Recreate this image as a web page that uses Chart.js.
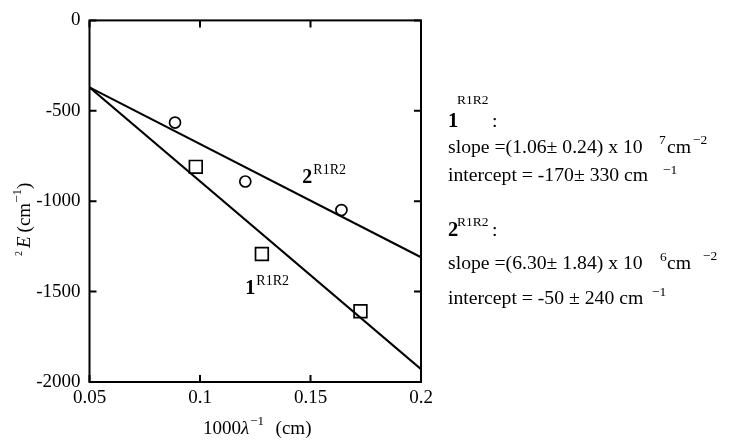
<!DOCTYPE html>
<html>
<head>
<meta charset="utf-8">
<script src="https://cdn.jsdelivr.net/npm/chart.js@4"></script>
<style>
  body { margin: 0; background: #fff; }
  #wrap { position: relative; width: 729px; height: 447px; }
  #myChart { position: absolute; left: 0; top: 0; }
  .t { position: absolute; font-family: 'Liberation Serif', serif; line-height: 1; white-space: pre; color: #000; }
</style>
</head>
<body>
<div id="wrap">
  <canvas id="myChart" width="729" height="447"></canvas>
</div>
<script>
// data
const circleX = [0.0887, 0.1205, 0.164];
const circleY = [-565, -891, -1049];
const squareX = [0.0981, 0.128, 0.1726];
const squareY = [-810, -1292, -1609];
const fit1X = [0.05, 0.2];
const fit1Y = [-370, -1929];
const fit2X = [0.05, 0.2];
const fit2Y = [-370, -1310];

const xTicks = [0.05, 0.1, 0.15, 0.2];
const xTickLabels = ["0.05", "0.1", "0.15", "0.2"];
const yTicks = [0, -500, -1000, -1500, -2000];
const yTickLabels = ["0", "-500", "-1000", "-1500", "-2000"];

// in-plot labels: [x, y, main, sup]
const seriesLabels = [
  [0.1463, -897, "2", "R1R2"],
  [0.1205, -1516, "1", "R1R2"],
];

const pts = (xs, ys) => xs.map((x, i) => ({ x: x, y: ys[i] }));
const serif = "'Liberation Serif', serif";

const framePlugin = {
  id: "frame",
  afterDraw(chart) {
    const { ctx, chartArea: a, scales } = chart;
    const xs = scales.x, ys = scales.y;
    ctx.save();
    ctx.strokeStyle = "#000";
    ctx.lineWidth = 2;
    ctx.strokeRect(a.left, a.top, a.right - a.left, a.bottom - a.top);
    ctx.beginPath();
    xTicks.forEach((v) => {
      const px = xs.getPixelForValue(v);
      ctx.moveTo(px, a.top); ctx.lineTo(px, a.top + 7);
      ctx.moveTo(px, a.bottom); ctx.lineTo(px, a.bottom - 7);
    });
    yTicks.forEach((v) => {
      const py = ys.getPixelForValue(v);
      ctx.moveTo(a.left, py); ctx.lineTo(a.left + 7, py);
      ctx.moveTo(a.right, py); ctx.lineTo(a.right - 7, py);
    });
    ctx.stroke();

    // series labels
    ctx.fillStyle = "#000";
    ctx.textBaseline = "alphabetic";
    seriesLabels.forEach(([x, y, main, sup]) => {
      const px = xs.getPixelForValue(x), py = ys.getPixelForValue(y);
      ctx.font = "bold 20px " + serif;
      ctx.fillText(main, px, py);
      ctx.font = "14px " + serif;
      ctx.fillText(sup, px + 11, py - 9);
    });

    // x axis title
    const cx = (a.left + a.right) / 2 + 2;
    const by = 434;
    const parts = [
      ["1000", "19px " + serif, 0, 0],
      ["\u03bb", "italic 19px " + serif, 0, 1],
      ["\u22121", "13px " + serif, -9, 2],
      ["  (cm)", "19px " + serif, 0, 0],
    ];
    let total = 0;
    parts.forEach((p) => { ctx.font = p[1]; total += ctx.measureText(p[0]).width + p[3]; });
    let x0 = cx - total / 2;
    parts.forEach((p) => {
      ctx.font = p[1];
      ctx.fillText(p[0], x0, by + p[2]);
      x0 += ctx.measureText(p[0]).width + p[3];
    });

    // y axis title (rotated)
    ctx.translate(30, 256);
    ctx.rotate(-Math.PI / 2);
    const yparts = [
      ["2", "10px " + serif, -8, 3],
      ["E", "italic 19px " + serif, 0, 4],
      ["(cm", "19px " + serif, 0, 0],
      ["\u22121", "13px " + serif, -9, 0],
      [")", "19px " + serif, 0, 0],
    ];
    let y0 = 0;
    yparts.forEach((p) => {
      ctx.font = p[1];
      ctx.fillText(p[0], y0, p[2]);
      y0 += ctx.measureText(p[0]).width + p[3];
    });
    ctx.restore();
  },
};

const ctx = document.getElementById("myChart");

new Chart(ctx, {
  type: "scatter",
  data: {
    datasets: [
      {
        data: pts(fit1X, fit1Y),
        showLine: true,
        borderColor: "#000",
        borderWidth: 2,
        pointRadius: 0,
      },
      {
        data: pts(fit2X, fit2Y),
        showLine: true,
        borderColor: "#000",
        borderWidth: 2,
        pointRadius: 0,
      },
      {
        data: pts(circleX, circleY),
        pointStyle: "circle",
        pointRadius: 5.5,
        borderColor: "#000",
        backgroundColor: "#fff",
        borderWidth: 1.7,
      },
      {
        data: pts(squareX, squareY),
        pointStyle: "rect",
        pointRadius: 9,
        borderColor: "#000",
        backgroundColor: "#fff",
        borderWidth: 1.7,
      },
    ],
  },
  options: {
    responsive: false,
    animation: false,
    devicePixelRatio: 1,
    layout: { padding: { left: 0, top: 14, right: 308, bottom: 0 } },
    plugins: { legend: { display: false }, tooltip: { enabled: false } },
    scales: {
      x: {
        type: "linear",
        min: 0.05,
        max: 0.2,
        afterBuildTicks: (s) => { s.ticks = xTicks.map((v) => ({ value: v })); },
        afterFit: (s) => { s.height = 65; },
        grid: { display: false, drawTicks: false },
        border: { display: false },
        ticks: {
          color: "#000",
          padding: 5,
          maxRotation: 0,
          font: { family: serif, size: 19 },
          callback: (v, i) => xTickLabels[i],
        },
      },
      y: {
        type: "linear",
        min: -2000,
        max: 0,
        afterBuildTicks: (s) => { s.ticks = yTicks.map((v) => ({ value: v })); },
        afterFit: (s) => { s.width = 89.5; },
        grid: { display: false, drawTicks: false },
        border: { display: false },
        ticks: {
          color: "#000",
          padding: 9,
          font: { family: serif, size: 19 },
          callback: (v, i) => yTickLabels[i],
        },
      },
    },
  },
  plugins: [framePlugin],
});

// annotation panel on the right: [left, baseline, text, size, weight]
const panel = [
  [448, 127, "1", 20.5, "bold"],
  [457, 104, "R1R2", 13.5, "normal"],
  [492, 127, ":", 19.7, "normal"],
  [448, 153, "slope =(1.06\u00b1 0.24) x 10", 19.7, "normal"],
  [659, 144, "7", 13.5, "normal"],
  [667, 153, "cm", 19.7, "normal"],
  [693, 144, "\u22122", 13.5, "normal"],
  [448, 181, "intercept = -170\u00b1 330 cm", 19.7, "normal"],
  [663, 174, "\u22121", 13.5, "normal"],
  [448, 236, "2", 20.5, "bold"],
  [457, 226, "R1R2", 13.5, "normal"],
  [492, 236, ":", 19.7, "normal"],
  [448, 269, "slope =(6.30\u00b1 1.84) x 10", 19.7, "normal"],
  [660, 261, "6", 13.5, "normal"],
  [667, 269, "cm", 19.7, "normal"],
  [703, 260, "\u22122", 13.5, "normal"],
  [448, 304, "intercept = -50 \u00b1 240 cm", 19.7, "normal"],
  [652, 296, "\u22121", 13.5, "normal"],
];
const wrap = document.getElementById("wrap");
panel.forEach(([x, b, text, size, weight]) => {
  const s = document.createElement("span");
  s.className = "t";
  s.textContent = text;
  s.style.left = x + "px";
  s.style.top = (b - size * 0.8375) + "px";
  s.style.fontSize = size + "px";
  s.style.fontWeight = weight;
  wrap.appendChild(s);
});
</script>
</body>
</html>
